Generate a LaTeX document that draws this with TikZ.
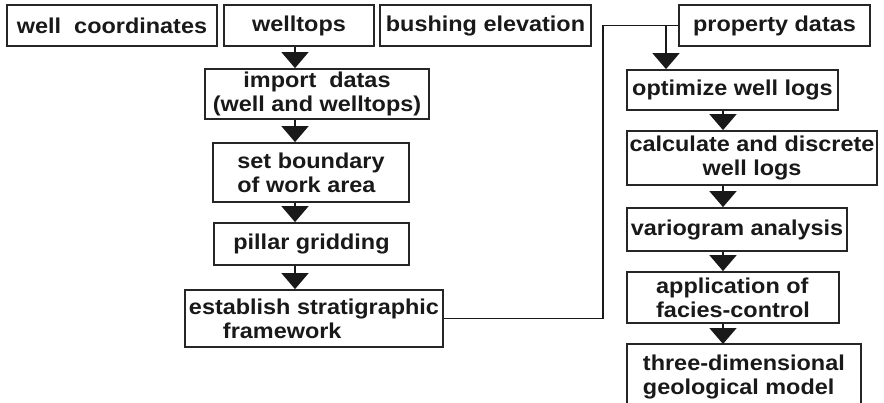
\documentclass[tikz,border=0pt]{standalone}
\usepackage{fontspec}
\setmainfont{Liberation Sans}[FakeStretch=1.09]
\usetikzlibrary{arrows.meta}
\tikzset{
  box/.style={draw=black!85, line width=1.8pt, fill=white, inner sep=0pt,
    font=\bfseries\fontsize{21.5pt}{24pt}\selectfont, text=black!90},
  arr/.style={draw=black!90, line width=1.7pt, -{Triangle[width=27pt,length=16pt]}},
  link/.style={draw=black!90, line width=1.7pt},
  openbox/.style={draw=black!85, line width=1.8pt},
}
\begin{document}
\begin{tikzpicture}[x=1pt,y=-1pt]
\useasboundingbox (0,0) rectangle (884,402);
% top row
\node[box, minimum width=210pt, minimum height=41pt] (wc) at (112,25.5) {well\ \ coordinates};
\node[box, minimum width=150pt, minimum height=41pt] (wt) at (299,25.5) {welltops};
\node[box, minimum width=211pt, minimum height=41pt] (be) at (485.5,25.5) {bushing elevation};
\node[box, minimum width=191pt, minimum height=41pt] (pd) at (774.5,25.5) {property datas};
% left column
\node[box, minimum width=224pt, minimum height=50pt, align=center] (imp) at (317,94) {import\ \ datas\\(well and welltops)};
\node[box, minimum width=196pt, minimum height=59pt, align=left] (sb) at (311,172.5) {set boundary\\of work area};
\node[box, minimum width=195pt, minimum height=42pt] (pg) at (311.5,244) {pillar gridding};
\node[box, minimum width=258pt, minimum height=57pt, align=left] (es) at (314,318.5) {establish stratigraphic\\\hspace*{34pt}framework};
% right column
\node[box, minimum width=211pt, minimum height=40pt] (ow) at (732.5,90) {optimize well logs};
\node[box, minimum width=250pt, minimum height=54pt, align=center] (cd) at (752,158) {calculate and discrete\\well logs};
\node[box, minimum width=220pt, minimum height=43pt] (va) at (737,229.5) {variogram analysis};
\node[box, minimum width=212pt, minimum height=51pt, align=left] (ap) at (733,297.5) {application of\\facies-control};
\node[box, draw=none, minimum width=232pt, minimum height=90pt, align=left, anchor=north west, text depth=30pt] (td) at (627,344) {three-dimensional\\geological model};
\draw[openbox] (td.south west) -- (td.north west) -- (td.north east) -- (td.south east);
% guide coordinates
\coordinate (xl) at (295,0);
\coordinate (xr) at (723,0);
\coordinate (xv) at (603,0);
\coordinate (xo) at (666,0);
% arrows left
\draw[arr] (wt.south -| xl) -- (imp.north -| xl);
\draw[arr] (imp.south -| xl) -- (sb.north -| xl);
\draw[arr] (sb.south -| xl) -- (pg.north -| xl);
\draw[arr] (pg.south -| xl) -- (es.north -| xl);
% connector
\draw[link] (es.east) -- (es.east -| xv) -- (xv |- pd.west) -- (pd.west);
\draw[arr] (pd.west -| xo) -- (ow.north -| xo);
% arrows right
\draw[arr] (ow.south -| xr) -- (cd.north -| xr);
\draw[arr] (cd.south -| xr) -- (va.north -| xr);
\draw[arr] (va.south -| xr) -- (ap.north -| xr);
\draw[arr] (ap.south -| xr) -- (td.north -| xr);
\end{tikzpicture}
\end{document}
